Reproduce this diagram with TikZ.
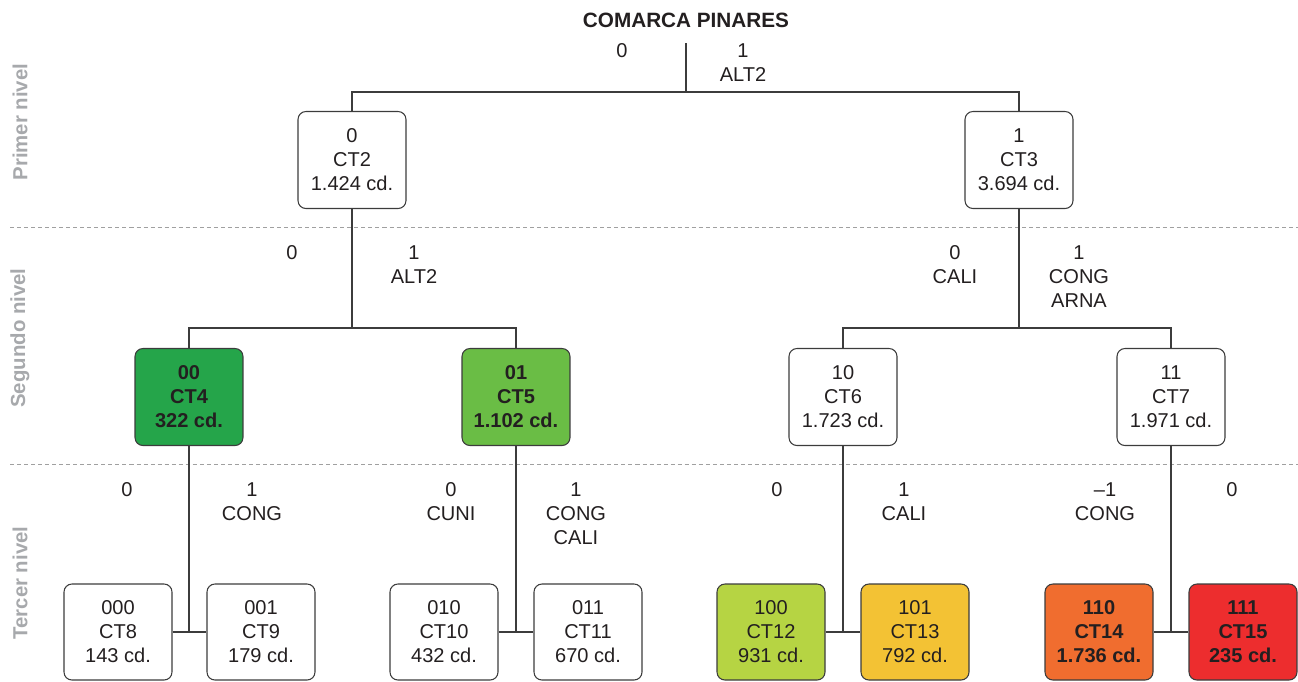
\documentclass[tikz,border=0pt]{standalone}
\usepackage{fontspec}
\setmainfont{Liberation Sans}
\usetikzlibrary{arrows.meta, positioning}
\definecolor{textdark}{HTML}{231F20}
\definecolor{linedark}{HTML}{3C3C3C}
\definecolor{levelgray}{HTML}{A7A9AC}
\definecolor{sepgray}{HTML}{A0A0A0}
\definecolor{greendark}{HTML}{25A54A}
\definecolor{greenmid}{HTML}{6ABD45}
\definecolor{greenlight}{HTML}{B6D443}
\definecolor{yellowct}{HTML}{F3C234}
\definecolor{orangect}{HTML}{F06D2F}
\definecolor{redct}{HTML}{ED2D2E}

\begin{document}
\begin{tikzpicture}[
    x=0.02cm, y=-0.02cm,
    every node/.style={align=center, inner sep=0pt, text=textdark, font=\fontsize{11.4}{13.7}\selectfont},
    ctbox/.style={draw=linedark, line width=0.6pt, rounded corners=4.5pt, minimum width=2.16cm, minimum height=1.94cm},
    ctbold/.style={ctbox, font=\fontsize{11.4}{13.7}\selectfont\bfseries},
    branch/.style={anchor=north},
    tree/.style={draw=linedark, line width=0.7pt},
    levelname/.style={rotate=90, text=levelgray, font=\fontsize{11.6}{14}\selectfont\bfseries},
    levelsep/.style={draw=sepgray, line width=0.5pt, dash pattern=on 2.3pt off 1.7pt}
]
\useasboundingbox (0,0) rectangle (1298,681);

\node (title) [font=\fontsize{11.8}{14}\selectfont\bfseries] at (686,20) {COMARCA PINARES};

\node (level_primer) [levelname] at (20,122) {Primer nivel};
\node (level_segundo) [levelname] at (20,338) {Segundo nivel};
\node (level_tercer) [levelname] at (20,583) {Tercer nivel};
\draw[levelsep] (10,227) -- (1298,227);
\draw[levelsep] (10,464) -- (1298,464);

\node (box_ct2) [ctbox] at (352,160) {0\\CT2\\1.424 cd.};
\node (box_ct3) [ctbox] at (1019,160) {1\\CT3\\3.694 cd.};

\node (box_ct4) [ctbold, fill=greendark] at (189,397) {00\\CT4\\322 cd.};
\node (box_ct5) [ctbold, fill=greenmid] at (516,397) {01\\CT5\\1.102 cd.};
\node (box_ct6) [ctbox] at (843,397) {10\\CT6\\1.723 cd.};
\node (box_ct7) [ctbox] at (1171,397) {11\\CT7\\1.971 cd.};

\node (box_ct8) [ctbox, minimum height=1.92cm] at (118,632) {000\\CT8\\143 cd.};
\node (box_ct9) [ctbox, minimum height=1.92cm] at (261,632) {001\\CT9\\179 cd.};
\node (box_ct10) [ctbox, minimum height=1.92cm] at (444,632) {010\\CT10\\432 cd.};
\node (box_ct11) [ctbox, minimum height=1.92cm] at (588,632) {011\\CT11\\670 cd.};
\node (box_ct12) [ctbox, minimum height=1.92cm, fill=greenlight] at (771,632) {100\\CT12\\931 cd.};
\node (box_ct13) [ctbox, minimum height=1.92cm, fill=yellowct] at (915,632) {101\\CT13\\792 cd.};
\node (box_ct14) [ctbold, minimum height=1.92cm, fill=orangect] at (1099,632) {110\\CT14\\1.736 cd.};
\node (box_ct15) [ctbold, minimum height=1.92cm, fill=redct] at (1243,632) {111\\CT15\\235 cd.};

\node (root_no) [branch] at (622,43) {0};
\node (root_yes) [branch] at (743,43) {1\\ALT2};
\node (ct2_no) [branch] at (292,245) {0};
\node (ct2_yes) [branch] at (414,245) {1\\ALT2};
\node (ct3_no) [branch] at (955,245) {0\\CALI};
\node (ct3_yes) [branch] at (1079,245) {1\\CONG\\ARNA};
\node (ct4_no) [branch] at (127,482) {0};
\node (ct4_yes) [branch] at (252,482) {1\\CONG};
\node (ct5_no) [branch] at (451,482) {0\\CUNI};
\node (ct5_yes) [branch] at (576,482) {1\\CONG\\CALI};
\node (ct6_no) [branch] at (777,482) {0};
\node (ct6_yes) [branch] at (904,482) {1\\CALI};
\node (ct7_no) [branch] at (1105,482) {\textendash1\\CONG};
\node (ct7_yes) [branch] at (1232,482) {0};

\coordinate (root_top) at (686,43);
\coordinate (root_split) at (686,92);
\coordinate (ct2_split) at (352,328);
\coordinate (ct3_split) at (1019,328);

\draw[tree] (root_top) -- (root_split);
\draw[tree] (box_ct2.north) |- (root_split) -| (box_ct3.north);
\draw[tree] (box_ct2) -- (ct2_split);
\draw[tree] (box_ct4.north) |- (ct2_split) -| (box_ct5.north);
\draw[tree] (box_ct3) -- (ct3_split);
\draw[tree] (box_ct6.north) |- (ct3_split) -| (box_ct7.north);
\draw[tree] (box_ct4) -- (box_ct4 |- box_ct8);
\draw[tree] (box_ct8) -- (box_ct9);
\draw[tree] (box_ct5) -- (box_ct5 |- box_ct10);
\draw[tree] (box_ct10) -- (box_ct11);
\draw[tree] (box_ct6) -- (box_ct6 |- box_ct12);
\draw[tree] (box_ct12) -- (box_ct13);
\draw[tree] (box_ct7) -- (box_ct7 |- box_ct14);
\draw[tree] (box_ct14) -- (box_ct15);
\end{tikzpicture}
\end{document}
